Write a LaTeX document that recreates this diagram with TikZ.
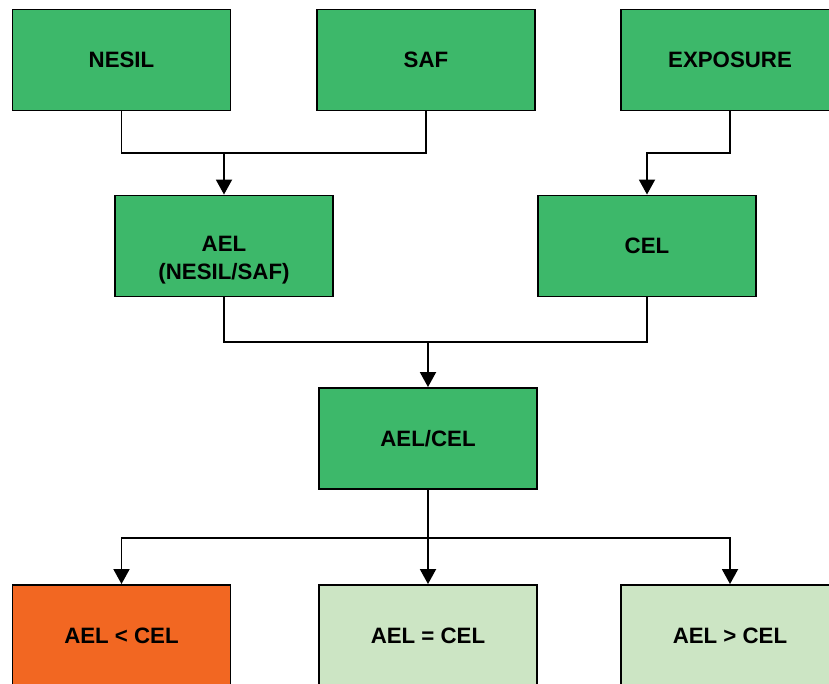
\documentclass[tikz,border=0pt]{standalone}
\usepackage{fontspec}
\setmainfont{Liberation Sans}
\usetikzlibrary{arrows.meta,positioning}

\definecolor{boxgreen}{RGB}{61,184,106}
\definecolor{boxorange}{RGB}{242,103,34}
\definecolor{boxpale}{RGB}{204,229,196}

\tikzset{
  block/.style={draw=black, line width=1.6pt, fill=boxgreen, minimum width=6.54cm,
    minimum height=3.03cm, align=center, inner sep=0pt,
    font=\fontsize{19}{24}\selectfont\bfseries},
  link/.style={line width=1.6pt},
  arr/.style={link, -{Triangle[length=0.45cm,width=0.48cm]}}
}

\begin{document}
\begin{tikzpicture}[x=0.03cm, y=-0.03cm]
  \useasboundingbox (0,0) rectangle (829,684);
  \clip (0,0) rectangle (829,684);
  % top row
  \node[block] (nesil) at (121.5,60) {NESIL};
  \node[block] (saf) at (426,60) {SAF};
  \node[block] (expo) at (730,60) {EXPOSURE};
  % second row
  \node[block, text height=2.17cm] (ael) at (224,246) {AEL\\(NESIL/SAF)};
  \node[block] (cel) at (647,246) {CEL};
  % ratio
  \node[block] (ratio) at (428,438.5) {AEL/CEL};
  % outcomes
  \node[block, fill=boxorange] (less) at (121.5,635.5) {AEL < CEL};
  \node[block, fill=boxpale] (equal) at (428,635.5) {AEL = CEL};
  \node[block, fill=boxpale] (more) at (730,635.5) {AEL > CEL};

  \coordinate (j1) at (224,153);
  \coordinate (j2) at (cel.north |- j1);
  \coordinate (j3) at (428,342);
  \coordinate (j4) at (428,538);

  \draw[link] (nesil.south) |- (j1) -| (saf.south);
  \draw[arr] (j1) -- (ael.north);
  \draw[arr] (expo.south) |- (j2) -- (cel.north);
  \draw[link] (ael.south) |- (j3) -| (cel.south);
  \draw[arr] (j3) -- (ratio.north);
  \draw[link] (ratio.south) -- (j4);
  \draw[arr] (j4) -| (less.north);
  \draw[arr] (j4) -- (equal.north);
  \draw[arr] (j4) -| (more.north);
\end{tikzpicture}
\end{document}
